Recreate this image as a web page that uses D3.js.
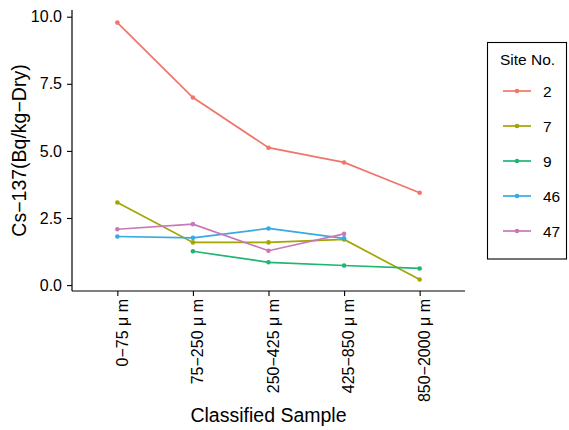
<!DOCTYPE html>
<html>
<head>
<meta charset="utf-8">
<script src="https://cdn.jsdelivr.net/npm/d3@7"></script>
<style>
  html, body { margin: 0; padding: 0; background: #fff; }
  svg { display: block; font-family: "Liberation Sans", Arial, Helvetica, sans-serif; }
</style>
</head>
<body>
<svg id="chart" width="569" height="430"></svg>
<script>
// Size classes along the x axis
const categories = ["0\u221275 \u03bc m", "75\u2212250 \u03bc m", "250\u2212425 \u03bc m", "425\u2212850 \u03bc m", "850\u22122000 \u03bc m"];

// Cs-137 activity per site (Bq/kg-Dry); null where no sample
const site2  = [9.78, 6.99, 5.12, 4.57, 3.44];
const site7  = [3.08, 1.59, 1.59, 1.70, 0.21];
const site9  = [null, 1.26, 0.85, 0.73, 0.62];
const site46 = [1.81, 1.76, 2.11, 1.74, null];
const site47 = [2.08, 2.27, 1.28, 1.91, null];

const siteNames = ["2", "7", "9", "46", "47"];
const siteColors = ["#F0766A", "#A3A500", "#1FB574", "#37A9E3", "#C878B8"];
const yTicks = [0, 2.5, 5, 7.5, 10];

const series = [site2, site7, site9, site46, site47].map((vals, i) => ({
  name: siteNames[i], color: siteColors[i],
  points: vals.map((v, j) => ({ cat: categories[j], v }))
}));

const svg = d3.select("#chart");
const panel = { left: 72, right: 465, top: 10, bottom: 291 };

const x = d3.scalePoint().domain(categories)
  .range([panel.left, panel.right]).padding(0.6);
const y = d3.scaleLinear().domain([-0.22, 10.25])
  .range([panel.bottom, panel.top]);

// Y axis
const yAxis = svg.append("g")
  .attr("transform", `translate(${panel.left},0)`)
  .call(d3.axisLeft(y).tickValues(yTicks).tickFormat(d3.format(".1f")).tickSize(5).tickPadding(5));
yAxis.select(".domain").attr("d", `M0,${panel.top}V${panel.bottom}`)
  .attr("stroke", "#000").attr("stroke-width", 1.2);
yAxis.selectAll(".tick line").attr("stroke", "#000").attr("stroke-width", 1.1);
yAxis.selectAll(".tick text").attr("fill", "#000").attr("font-size", 16)
  .attr("font-family", "Liberation Sans, Arial, sans-serif");

// X axis
const xAxis = svg.append("g")
  .attr("transform", `translate(0,${panel.bottom})`)
  .call(d3.axisBottom(x).tickSize(5).tickPadding(0));
xAxis.select(".domain").attr("d", `M${panel.left},0H${panel.right}`)
  .attr("stroke", "#000").attr("stroke-width", 1.2);
xAxis.selectAll(".tick line").attr("stroke", "#000").attr("stroke-width", 1.1);
xAxis.selectAll(".tick text")
  .attr("fill", "#000").attr("font-size", 16)
  .attr("font-family", "Liberation Sans, Arial, sans-serif")
  .attr("text-anchor", "end")
  .attr("transform", "translate(0,8) rotate(-90)")
  .attr("x", 0).attr("y", 0).attr("dy", "0.62em");

// Axis titles
svg.append("text")
  .attr("transform", `translate(26,${(panel.top + panel.bottom) / 2}) rotate(-90)`)
  .attr("text-anchor", "middle").attr("font-size", 19.5).attr("fill", "#000")
  .text("Cs\u2212137(Bq/kg\u2212Dry)");
svg.append("text")
  .attr("x", (panel.left + panel.right) / 2).attr("y", 422)
  .attr("text-anchor", "middle").attr("font-size", 19.5).attr("fill", "#000")
  .text("Classified Sample");

// Lines and points
const line = d3.line()
  .defined(d => d.v !== null)
  .x(d => x(d.cat)).y(d => y(d.v));

const g = svg.append("g");
series.forEach(s => {
  g.append("path").datum(s.points)
    .attr("d", line).attr("fill", "none")
    .attr("stroke", s.color).attr("stroke-width", 1.7);
  g.selectAll(null).data(s.points.filter(d => d.v !== null)).enter()
    .append("circle")
    .attr("cx", d => x(d.cat)).attr("cy", d => y(d.v))
    .attr("r", 2.3).attr("fill", s.color);
});

// Legend
const legend = svg.append("g");
legend.append("rect")
  .attr("x", 487.5).attr("y", 42.5).attr("width", 79).attr("height", 216.5)
  .attr("fill", "#fff").attr("stroke", "#000").attr("stroke-width", 1.1);
legend.append("text").attr("x", 500).attr("y", 65)
  .attr("font-size", 15.5).attr("fill", "#000").text("Site No.");
const keyY = d3.scalePoint().domain(siteNames).range([91, 231]);
series.forEach(s => {
  const ky = keyY(s.name);
  legend.append("line")
    .attr("x1", 503).attr("x2", 531).attr("y1", ky).attr("y2", ky)
    .attr("stroke", s.color).attr("stroke-width", 1.7);
  legend.append("circle").attr("cx", 517).attr("cy", ky).attr("r", 2.3).attr("fill", s.color);
  legend.append("text").attr("x", 543).attr("y", ky).attr("dy", "0.36em")
    .attr("font-size", 15.5).attr("fill", "#000").text(s.name);
});
</script>
</body>
</html>
